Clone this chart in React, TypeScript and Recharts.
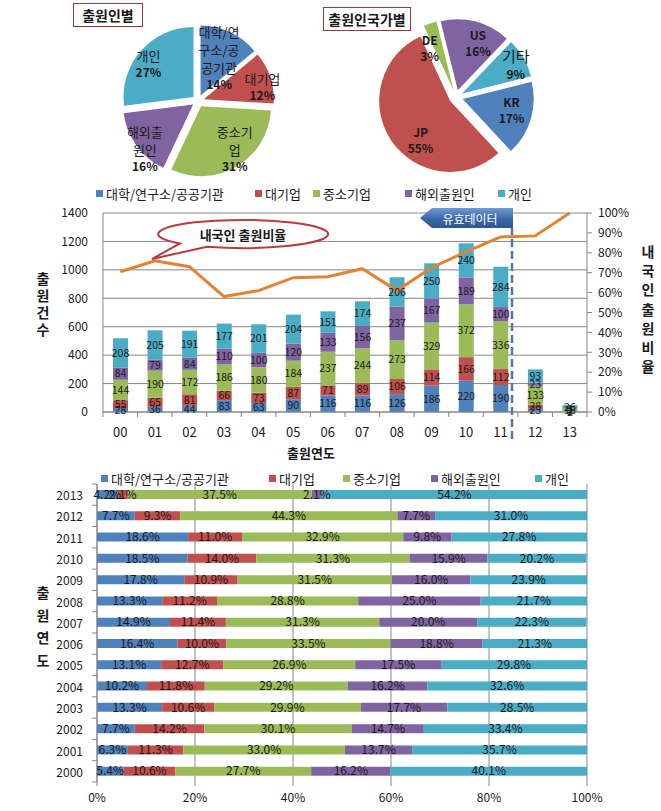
import React from "react";
import {
  PieChart,
  Pie,
  Cell,
  ComposedChart,
  BarChart,
  Bar,
  Line,
  XAxis,
  YAxis,
  CartesianGrid,
  LabelList,
} from "recharts";

const FONT = "'Noto Sans CJK KR', 'Noto Sans', sans-serif";
const RAD = Math.PI / 180;
const GRID = "#868686";
const INK = "#1a1a1a";

// 공통 계열
const SERIES_NAMES = ["대학/연구소/공공기관", "대기업", "중소기업", "해외출원인", "개인"];
const SERIES_KEYS = ["univ", "large", "sme", "foreign", "person"];
const SERIES_COLORS = ["#4F81BD", "#C0504D", "#9BBB59", "#8064A2", "#4BACC6"];

// 출원인별 (%)
const APPLICANT_PCT = [14, 12, 31, 16, 27];
const APPLICANT_LABEL_LINES = [["대학/연", "구소/공", "공기관"], ["대기업"], ["중소기", "업"], ["해외출", "원인"], ["개인"]];

// 출원인국가별 (%)
const COUNTRY_NAMES = ["KR", "JP", "DE", "US", "기타"];
const COUNTRY_PCT = [17, 55, 3, 16, 9];

// 연도별 출원건수
const YEARS_SHORT = ["00", "01", "02", "03", "04", "05", "06", "07", "08", "09", "10", "11", "12", "13"];
const UNIV = [28, 36, 44, 83, 63, 90, 116, 116, 126, 186, 220, 190, 23, 2];
const LARGE = [55, 65, 81, 66, 73, 87, 71, 89, 106, 114, 166, 112, 28, 1];
const SME = [144, 190, 172, 186, 180, 184, 237, 244, 273, 329, 372, 336, 133, 18];
const FOREIGN = [84, 79, 84, 110, 100, 120, 133, 156, 237, 167, 189, 100, 23, 1];
const PERSON = [208, 205, 191, 177, 201, 204, 151, 174, 206, 250, 240, 284, 93, 26];
const DOMESTIC_RATIO = [70.5, 76, 73, 58, 61, 67.5, 68, 72, 61, 72.5, 80.5, 88, 88.5, 100];
const COUNT_TICKS = [0, 200, 400, 600, 800, 1000, 1200, 1400];
const RATIO_TICKS = [0, 10, 20, 30, 40, 50, 60, 70, 80, 90, 100];

// 연도별 비율 (%)
const YEARS = ["2000", "2001", "2002", "2003", "2004", "2005", "2006", "2007", "2008", "2009", "2010", "2011", "2012", "2013"];
const UNIV_PCT = [5.4, 6.3, 7.7, 13.3, 10.2, 13.1, 16.4, 14.9, 13.3, 17.8, 18.5, 18.6, 7.7, 4.2];
const LARGE_PCT = [10.6, 11.3, 14.2, 10.6, 11.8, 12.7, 10.0, 11.4, 11.2, 10.9, 14.0, 11.0, 9.3, 2.1];
const SME_PCT = [27.7, 33.0, 30.1, 29.9, 29.2, 26.9, 33.5, 31.3, 28.8, 31.5, 31.3, 32.9, 44.3, 37.5];
const FOREIGN_PCT = [16.2, 13.7, 14.7, 17.7, 16.2, 17.5, 18.8, 20.0, 25.0, 16.0, 15.9, 9.8, 7.7, 2.1];
const PERSON_PCT = [40.1, 35.7, 33.4, 28.5, 32.6, 29.8, 21.3, 22.3, 21.7, 23.9, 20.2, 27.8, 31.0, 54.2];
const PCT_TICKS = [0, 20, 40, 60, 80, 100];

const countData = YEARS_SHORT.map((y, i) => ({
  year: y,
  univ: UNIV[i],
  large: LARGE[i],
  sme: SME[i],
  foreign: FOREIGN[i],
  person: PERSON[i],
  ratio: DOMESTIC_RATIO[i],
}));

const pctData = YEARS.map((y, i) => ({
  year: y,
  univ: UNIV_PCT[i],
  large: LARGE_PCT[i],
  sme: SME_PCT[i],
  foreign: FOREIGN_PCT[i],
  person: PERSON_PCT[i],
}));

// 조각 분리형 파이: 조각마다 Pie 하나 (12시 기준 시계방향)
type PieSpec = {
  values: number[];
  colors: string[];
  cx: number;
  cy: number;
  r: number;
  explode: number;
  rotation: number;
  labelR: number[];
  labelNudge: number[];
  renderText: (i: number, x: number, y: number) => React.ReactElement;
};

function explodedPies(spec: PieSpec) {
  const total = spec.values.reduce((a, b) => a + b, 0);
  let acc = spec.rotation;
  return spec.values.map((v, i) => {
    const a0 = acc;
    const a1 = acc + (v / total) * 360;
    acc = a1;
    const mid = (a0 + a1) / 2;
    const ox = spec.cx + spec.explode * Math.sin(mid * RAD);
    const oy = spec.cy - spec.explode * Math.cos(mid * RAD);
    const la = (mid + spec.labelNudge[i]) * RAD;
    const lx = ox + spec.labelR[i] * Math.sin(la);
    const ly = oy - spec.labelR[i] * Math.cos(la);
    return (
      <Pie
        key={i}
        data={[{ value: v }]}
        dataKey="value"
        cx={ox}
        cy={oy}
        outerRadius={spec.r}
        startAngle={90 - a0}
        endAngle={90 - a1}
        stroke="none"
        isAnimationActive={false}
        labelLine={false}
        label={() => spec.renderText(i, lx, ly)}
      >
        <Cell fill={spec.colors[i]} />
      </Pie>
    );
  });
}

function applicantText(i: number, x: number, y: number) {
  const lines = APPLICANT_LABEL_LINES[i];
  const span = (lines.length - 1) * 18 + 16;
  const top = y - span / 2;
  return (
    <g>
      {lines.map((t, k) => (
        <text key={k} x={x} y={top + k * 18} textAnchor="middle" dominantBaseline="central"
          fontSize={13} fill={INK} fontFamily={FONT}>{t}</text>
      ))}
      <text x={x} y={top + span} textAnchor="middle" dominantBaseline="central"
        fontSize={12} fontWeight="bold" fill={INK} fontFamily={FONT}>{APPLICANT_PCT[i]}%</text>
    </g>
  );
}

function countryText(i: number, x: number, y: number) {
  const big = COUNTRY_NAMES[i] === "기타";
  const gap = big ? 18 : 16;
  return (
    <g>
      <text x={x} y={y - gap / 2} textAnchor="middle" dominantBaseline="central"
        fontSize={big ? 15 : 12} fontWeight={big ? "normal" : "bold"} fill={INK} fontFamily={FONT}>
        {COUNTRY_NAMES[i]}
      </text>
      <text x={x} y={y + gap / 2} textAnchor="middle" dominantBaseline="central"
        fontSize={12} fontWeight="bold" fill={INK} fontFamily={FONT}>{COUNTRY_PCT[i]}%</text>
    </g>
  );
}

const MID_BAND = 484 / 14;
const LOW_BAND = 298 / 14;

function MidXTick(props: any) {
  const { x, y, payload, index } = props;
  return (
    <g>
      <text x={x} y={y + 19} textAnchor="middle" dominantBaseline="central" fontSize={13} fill={INK} fontFamily={FONT}>
        {payload.value}
      </text>
      <line x1={x - MID_BAND / 2} x2={x - MID_BAND / 2} y1={y} y2={y + 5} stroke={GRID} />
      {index === YEARS_SHORT.length - 1 && (
        <line x1={x + MID_BAND / 2} x2={x + MID_BAND / 2} y1={y} y2={y + 5} stroke={GRID} />
      )}
    </g>
  );
}

function LowYTick(props: any) {
  const { x, y, payload, index } = props;
  return (
    <g>
      <text x={x - 14} y={y} textAnchor="end" dominantBaseline="central" fontSize={12} fill={INK} fontFamily={FONT}>
        {payload.value}
      </text>
      <line x1={x - 5} x2={x} y1={y - LOW_BAND / 2} y2={y - LOW_BAND / 2} stroke={GRID} />
      {index === 0 && <line x1={x - 5} x2={x} y1={y + LOW_BAND / 2} y2={y + LOW_BAND / 2} stroke={GRID} />}
    </g>
  );
}

function LegendRow({ top, lefts }: { top: number; lefts: number[] }) {
  return (
    <>
      {SERIES_NAMES.map((n, i) => (
        <div
          key={n}
          style={{
            position: "absolute",
            left: lefts[i],
            top: top - 9,
            height: 18,
            display: "flex",
            alignItems: "center",
            fontFamily: FONT,
            fontSize: 13,
            color: INK,
            whiteSpace: "nowrap",
          }}
        >
          <span style={{ width: 7, height: 7, background: SERIES_COLORS[i], marginRight: 3, display: "inline-block" }} />
          {n}
        </div>
      ))}
    </>
  );
}

function TitleBox({ left, top, width, text }: { left: number; top: number; width: number; text: string }) {
  return (
    <div
      style={{
        position: "absolute",
        left,
        top,
        width,
        height: 24,
        border: "1.5px solid #9B3838",
        background: "#fff",
        fontFamily: FONT,
        fontWeight: "bold",
        fontSize: 14,
        color: INK,
        display: "flex",
        alignItems: "center",
        justifyContent: "center",
        boxSizing: "border-box",
      }}
    >
      {text}
    </div>
  );
}

function VText({ x, y0, step, text }: { x: number; y0: number; step: number; text: string }) {
  return (
    <>
      {Array.from(text).map((ch, k) => (
        <text key={k} x={x} y={y0 + k * step} textAnchor="middle" dominantBaseline="central"
          fontSize={14} fontWeight="bold" fill={INK} fontFamily={FONT}>{ch}</text>
      ))}
    </>
  );
}

export default function App() {
  return (
    <div style={{ position: "absolute", left: 0, top: 0, width: 661, height: 811, background: "#fff", overflow: "hidden" }}>
      {/* 출원인별 */}
      <div style={{ position: "absolute", left: 0, top: 0 }}>
        <PieChart width={330} height={185} margin={{ top: 0, right: 0, bottom: 0, left: 0 }}>
          {explodedPies({
            values: APPLICANT_PCT,
            colors: SERIES_COLORS,
            cx: 198,
            cy: 101,
            r: 70,
            explode: 6,
            rotation: 0,
            labelR: [42, 60, 54, 65, 56],
            labelNudge: [1, 6, -8, -6, -5],
            renderText: applicantText,
          })}
        </PieChart>
      </div>
      {/* 출원인국가별 */}
      <div style={{ position: "absolute", left: 330, top: 0 }}>
        <PieChart width={331} height={185} margin={{ top: 0, right: 0, bottom: 0, left: 0 }}>
          {explodedPies({
            values: COUNTRY_PCT,
            colors: SERIES_COLORS,
            cx: 126,
            cy: 97,
            r: 71,
            explode: 7,
            rotation: 76,
            labelR: [50, 49, 49, 52, 61],
            labelNudge: [-4, -19, -10, 8, 2],
            renderText: countryText,
          })}
        </PieChart>
      </div>
      <TitleBox left={73} top={3} width={70} text="출원인별" />
      <TitleBox left={323} top={7} width={88} text="출원인국가별" />

      {/* 연도별 출원건수 + 내국인 출원비율 */}
      <LegendRow top={193} lefts={[96, 255, 313, 405, 498]} />
      <div style={{ position: "absolute", left: 0, top: 180 }}>
        <ComposedChart width={661} height={280} data={countData} margin={{ top: 33, right: 0, bottom: 0, left: 0 }}>
          <CartesianGrid vertical={false} stroke={GRID} yAxisId="left" />
          <XAxis
            dataKey="year"
            height={48}
            interval={0}
            tickLine={false}
            tickSize={0}
            tickMargin={0}
            axisLine={{ stroke: GRID }}
            tick={(p: any) => <MidXTick {...p} />}
          />
          <YAxis
            yAxisId="left"
            width={103}
            domain={[0, 1400]}
            ticks={COUNT_TICKS}
            interval={0}
            tickLine={false}
            tickMargin={9}
            axisLine={{ stroke: GRID }}
            tick={{ fontSize: 12, fill: INK, fontFamily: FONT }}
          />
          <YAxis
            yAxisId="right"
            orientation="right"
            width={74}
            domain={[0, 100]}
            ticks={RATIO_TICKS}
            interval={0}
            tickFormatter={(v: number) => `${v}%`}
            tickSize={5}
            tickMargin={6}
            tickLine={{ stroke: GRID }}
            axisLine={{ stroke: GRID }}
            tick={{ fontSize: 12, fill: INK, fontFamily: FONT }}
          />
          {SERIES_KEYS.map((k, i) => (
            <Bar key={k} yAxisId="left" dataKey={k} stackId="cnt" fill={SERIES_COLORS[i]} barSize={15} isAnimationActive={false}>
              <LabelList dataKey={k} position="center" fontSize={10.5} fill={INK} fontFamily={FONT} />
            </Bar>
          ))}
          <Line
            yAxisId="right"
            dataKey="ratio"
            type="linear"
            stroke="#E3822F"
            strokeWidth={3}
            dot={false}
            isAnimationActive={false}
          />
        </ComposedChart>
      </div>

      {/* 연도별 비율 */}
      <LegendRow top={478} lefts={[101, 269, 343, 431, 535]} />
      <div style={{ position: "absolute", left: 0, top: 470 }}>
        <BarChart
          layout="vertical"
          width={661}
          height={341}
          data={pctData}
          margin={{ top: 14, right: 74, bottom: 0, left: 0 }}
        >
          <CartesianGrid horizontal={false} stroke={GRID} />
          <XAxis
            type="number"
            domain={[0, 100]}
            allowDataOverflow
            ticks={PCT_TICKS}
            interval={0}
            height={29}
            tickFormatter={(v: number) => `${v}%`}
            tickSize={4}
            tickMargin={7}
            tickLine={{ stroke: GRID }}
            axisLine={false}
            tick={{ fontSize: 12, fill: INK, fontFamily: FONT }}
          />
          <YAxis
            type="category"
            dataKey="year"
            reversed
            width={97}
            interval={0}
            tickLine={false}
            tickSize={0}
            tickMargin={0}
            axisLine={{ stroke: GRID }}
            tick={(p: any) => <LowYTick {...p} />}
          />
          {SERIES_KEYS.map((k, i) => (
            <Bar key={k} dataKey={k} stackId="pct" fill={SERIES_COLORS[i]} barSize={9} isAnimationActive={false}>
              <LabelList
                dataKey={k}
                position="center"
                fontSize={12}
                fill={INK}
                fontFamily={FONT}
                formatter={(v: any) => `${Number(v).toFixed(1)}%`}
              />
            </Bar>
          ))}
        </BarChart>
      </div>

      {/* 주석, 축 제목 */}
      <svg width={661} height={811} style={{ position: "absolute", left: 0, top: 0, pointerEvents: "none" }}>
        <defs>
          <linearGradient id="validGrad" x1="0" y1="0" x2="0" y2="1">
            <stop offset="0%" stopColor="#6E9BD6" />
            <stop offset="55%" stopColor="#3A67A8" />
            <stop offset="100%" stopColor="#2D5590" />
          </linearGradient>
        </defs>
        <path
          d="M 207 246.7 A 85 14 0 1 0 180 243.4 L 152 259 Z"
          fill="#fff"
          stroke="#B83C3C"
          strokeWidth={2}
        />
        <text x={243} y={234} textAnchor="middle" dominantBaseline="central" fontSize={13} fontWeight="bold" fill={INK} fontFamily={FONT}>
          내국인 출원비율
        </text>
        <line x1={512} x2={512} y1={227} y2={440} stroke="#5674A6" strokeWidth={2.5} strokeDasharray="8 4" />
        <polygon points="420,218 432,208 513,208 513,228 432,228" fill="url(#validGrad)" />
        <text x={470} y={218} textAnchor="middle" dominantBaseline="central" fontSize={12} fill="#fff" fontFamily={FONT}>
          유효데이터
        </text>
        <VText x={43} y0={278} step={17} text="출원건수" />
        <VText x={648} y0={251} step={19.2} text="내국인출원비율" />
        <text x={311} y={452} textAnchor="middle" dominantBaseline="central" fontSize={13} fontWeight="bold" fill={INK} fontFamily={FONT}>
          출원연도
        </text>
        <VText x={43} y0={592} step={22.5} text="출원연도" />
      </svg>
    </div>
  );
}
